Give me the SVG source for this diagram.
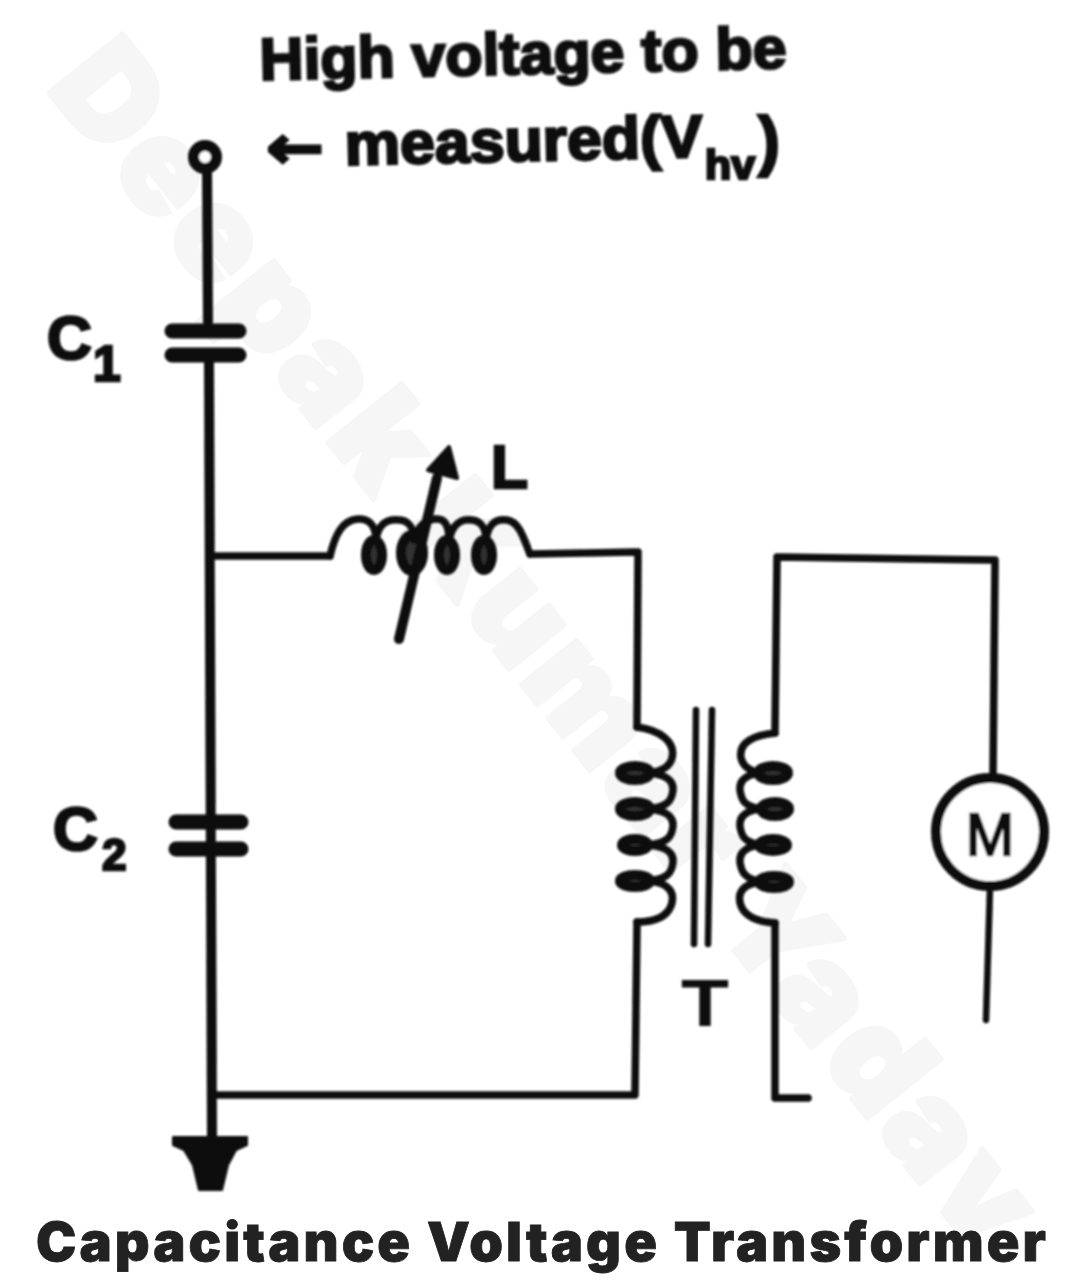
<svg xmlns="http://www.w3.org/2000/svg" width="1080" height="1282" viewBox="0 0 1080 1282">
<style>
.w{fill:none;stroke:#0a0a0a;stroke-width:7.5;stroke-linecap:round;stroke-linejoin:round}
.main{stroke-width:10}
.thin{stroke-width:6.5}
.plate{fill:none;stroke:#0a0a0a;stroke-width:15;stroke-linecap:round}
.loop{fill:#333;stroke:#0a0a0a;stroke-width:10}
.t{font-family:"Liberation Sans",Arial,sans-serif;font-weight:700;fill:#0a0a0a;stroke:#0a0a0a;stroke-width:2.6}
.wm{font-family:Inter,"Liberation Sans",sans-serif;font-weight:900;fill:#f6f6f6;stroke:#f6f6f6;stroke-width:5;stroke-linejoin:round}
.title{font-family:Inter,"Liberation Sans",sans-serif;font-weight:900;fill:#222;font-size:54px;stroke:#222;stroke-width:.8}
</style>
<defs><filter id="soft" x="-5%" y="-5%" width="110%" height="110%"><feGaussianBlur stdDeviation="1"/></filter></defs>
<rect width="1080" height="1282" fill="#fff"/>
<text id="watermark" class="wm" font-size="130" transform="translate(45 88) rotate(51.4)" textLength="1495" lengthAdjust="spacing">Deepak Kumar Yadav</text>
<g filter="url(#soft)">
<g id="connectors">
<path class="w main" d="M207 165L208 322M209 362L212 1140"/>
<path class="w" d="M212 556L330 556M530 554L638 552L637 727M637 922L635 1095L212 1095"/>
<path class="w" d="M775 733L777 557L995 560L993 778"/>
<path class="w" d="M775 923L775 1098L808 1098"/>
<path class="w thin" d="M990 888L986 1020"/>
</g>
<g id="terminal">
<circle cx="205" cy="157" r="11.5" fill="#fff" stroke="#0a0a0a" stroke-width="11"/>
</g>
<g id="label-high-voltage">
<text class="t" font-size="60" transform="rotate(-1.3 260 80)" x="260" y="80" textLength="527" lengthAdjust="spacingAndGlyphs">High voltage to be</text>
<text class="t" style="font-family:'DejaVu Sans',sans-serif" font-size="60" x="266" y="168" textLength="58" lengthAdjust="spacingAndGlyphs">←</text>
<text class="t" font-size="60" transform="rotate(-1.3 345 165)" x="345" y="165" textLength="358" lengthAdjust="spacingAndGlyphs">measured(V</text>
<text class="t" font-size="40" x="705" y="179" textLength="50" lengthAdjust="spacingAndGlyphs">hv</text>
<text class="t" font-size="66" x="758" y="163">)</text>
</g>
<g id="C1">
<path class="plate" d="M172 331H239M172 355H239"/>
<text class="t" font-size="62" x="47" y="359">C</text>
<text class="t" font-size="50" x="93" y="381">1</text>
</g>
<g id="C2">
<path class="plate" d="M176 822H241M176 849H241"/>
<text class="t" font-size="62" x="53" y="850">C</text>
<text class="t" font-size="44" x="102" y="870">2</text>
</g>
<g id="L">
<ellipse class="loop" cx="374" cy="555" rx="8" ry="15"/>
<ellipse class="loop" cx="412" cy="553" rx="11" ry="18"/>
<ellipse class="loop" cx="447" cy="555" rx="8" ry="15"/>
<ellipse class="loop" cx="484" cy="555" rx="8" ry="15"/>
<path class="w" d="M330 556C335 535 342 520 358 519C370 518 376 527 376 540C378 525 386 518 400 520C410 521 414 530 414 540C418 526 425 519 437 519C447 519 449 530 449 540C452 526 460 518 472 520C482 521 486 530 486 540C488 525 495 518 507 520C520 522 524 540 530 554"/>
<path class="w main" d="M399 639L437 478"/>
<polygon points="449,447 428,470 457,478" fill="#0a0a0a" stroke="#0a0a0a" stroke-width="4" stroke-linejoin="round"/>
<text class="t" font-size="62" x="491" y="488" textLength="37" lengthAdjust="spacingAndGlyphs">L</text>
</g>
<g id="T">
<ellipse class="loop" cx="635" cy="773" rx="15" ry="7"/>
<ellipse class="loop" cx="635" cy="809" rx="15" ry="7"/>
<ellipse class="loop" cx="635" cy="845" rx="13" ry="6"/>
<ellipse class="loop" cx="635" cy="881" rx="15" ry="6"/>
<path class="w" d="M637 727C660 730 676 742 672 758C670 767 662 771 650 773C668 775 676 782 672 795C670 804 662 807 650 809C668 811 676 818 672 831C670 840 662 843 650 845C668 847 676 854 672 867C670 876 662 879 650 881C668 883 676 892 671 906C666 918 652 922 637 922"/>
<ellipse class="loop" cx="773" cy="773" rx="15" ry="7"/>
<ellipse class="loop" cx="775" cy="809" rx="14" ry="7"/>
<ellipse class="loop" cx="773" cy="845" rx="14" ry="6"/>
<ellipse class="loop" cx="774" cy="882" rx="15" ry="6"/>
<path class="w" d="M775 733C755 735 738 742 741 758C743 767 750 771 760 773C744 775 737 782 741 795C743 804 750 807 760 809C744 811 737 818 741 831C743 840 750 843 760 845C744 847 737 854 741 867C743 876 750 879 760 882C744 884 736 892 741 906C746 918 760 922 775 923"/>
<path class="w thin" d="M696 710L694 944M712 710L708 944"/>
<text class="t" font-size="66" x="681" y="1026" textLength="48" lengthAdjust="spacingAndGlyphs" style="stroke-width:0">T</text>
</g>
<g id="M">
<circle cx="990" cy="832" r="54" fill="#fff" stroke="#0a0a0a" stroke-width="10"/>
<text class="t" font-size="60" x="990" y="855" text-anchor="middle" textLength="48" lengthAdjust="spacingAndGlyphs" style="font-weight:400;stroke-width:2.6">M</text>
</g>
<g id="ground">
<polygon points="173,1137 247,1137 247,1145 236,1150 228,1165 222,1190 199,1190 193,1165 184,1150 173,1145" fill="#0a0a0a" stroke="#0a0a0a" stroke-width="2" stroke-linejoin="round"/>
</g>
</g>
<text id="title" class="title" x="36" y="1261" textLength="1010" lengthAdjust="spacing">Capacitance Voltage Transformer</text>
</svg>
